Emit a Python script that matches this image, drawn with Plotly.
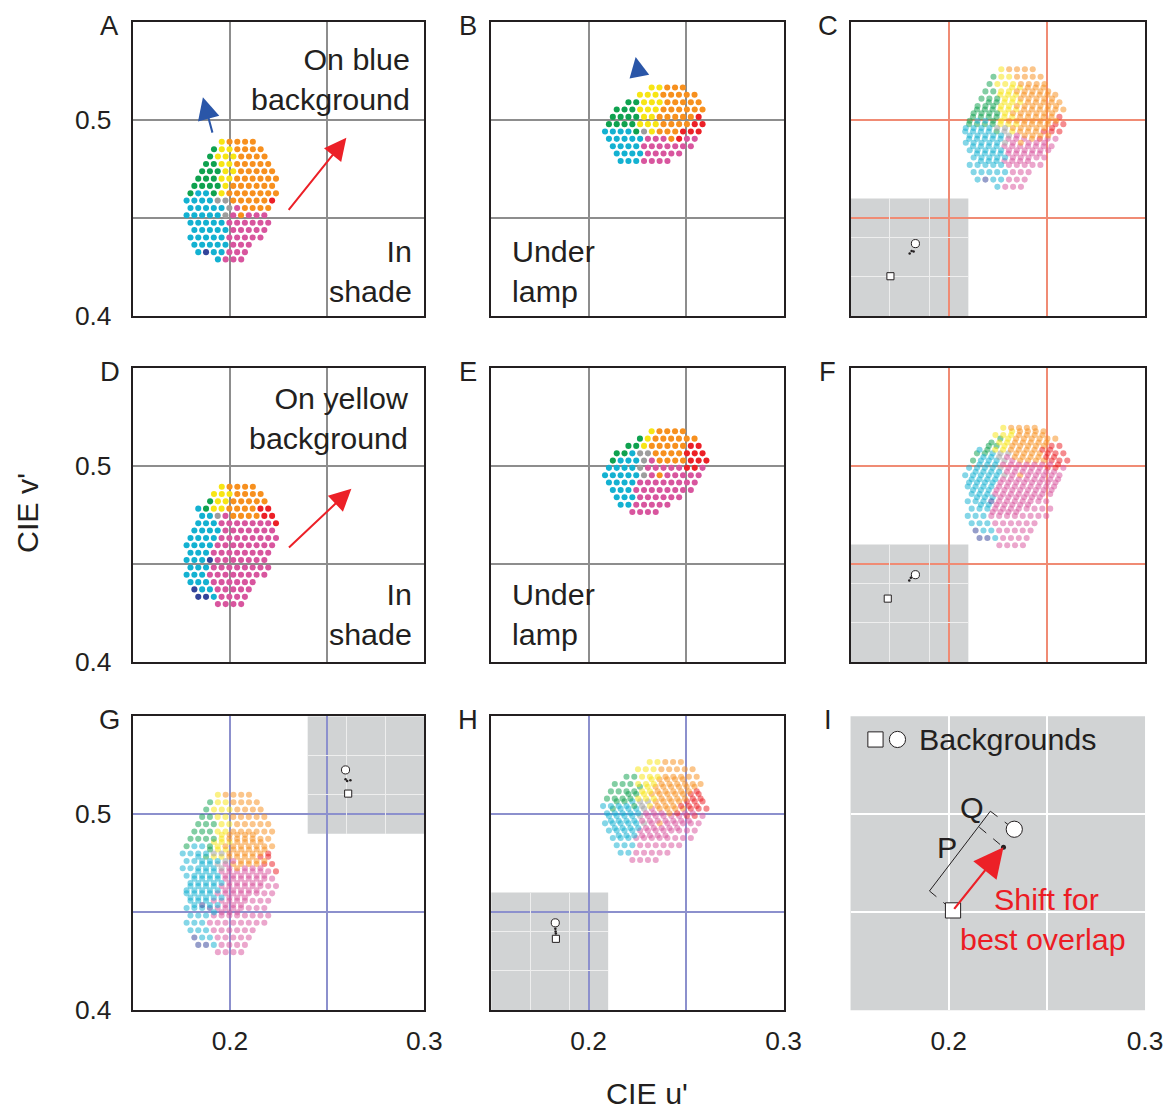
import plotly.graph_objects as go

# ====================== DATA ======================
U_RANGE = [0.15, 0.30]
V_RANGE = [0.40, 0.55]
U_TICKS = [0.20, 0.25, 0.30]
U_TICKTEXT = ["0.2", "", "0.3"]
V_TICKS = [0.40, 0.45, 0.50]
V_TICKTEXT = ["0.4", "", "0.5"]

DOT_STEP_U = 0.0040  # spacing of neighbouring samples along u' in each row

# colour codes of the samples: c cyan, g green, y yellow, o orange, r red,
# m magenta, k grey, b dark blue
# Panel A (blue background, in shade)
A_rows_v = [0.4889, 0.4851, 0.4814, 0.4776, 0.4739, 0.4701, 0.4664, 0.4626, 0.4589,
            0.4551, 0.4514, 0.4476, 0.4439, 0.4401, 0.4364, 0.4326, 0.4289]
A_rows_u0 = [0.1958, 0.1918, 0.1898, 0.1877, 0.1857, 0.1837, 0.1817, 0.1797, 0.1777,
             0.1797, 0.1777, 0.1797, 0.1817, 0.1797, 0.1817, 0.1837, 0.1938]
A_rows_col = ["yoooo", "gyyoooo", "gyyyoooo", "ggyyooooo", "gggyyooooo", "gggyyoooooo",
              "ggggyoooooo", "gccgyooooooo", "cccckkooooor", "ccccckmoooo", "ccccckmommm",
              "cccccmmmmmm", "cccccmmmmm", "cccccmmmmm", "cccccmmm", "cbccmmm", "cmmm"]

# Panel B (blue background, under lamp)
B_rows_v = [0.5166, 0.5129, 0.5091, 0.5054, 0.5016, 0.4979, 0.4941, 0.4904, 0.4866,
            0.4829, 0.4791]
B_rows_u0 = [0.2323, 0.2263, 0.2204, 0.2144, 0.2124, 0.2104, 0.2084, 0.2104, 0.2124,
             0.2144, 0.2164]
B_rows_col = ["yyooo", "yyyooooo", "ggyyyooooo", "gggyyyoooooo", "ggggyyooooor",
              "ggggyyyoooorr", "ccccgkyooorrr", "cccccmmmormm", "ccccmmmmmmm",
              "ccccmmmmm", "cccmmmm"]

# Panel D (yellow background, in shade)
D_rows_v = [0.4895, 0.4858, 0.4820, 0.4783, 0.4746, 0.4708, 0.4671, 0.4633, 0.4596,
            0.4558, 0.4521, 0.4483, 0.4446, 0.4408, 0.4371, 0.4333, 0.4296]
D_rows_u0 = [0.1958, 0.1918, 0.1898, 0.1837, 0.1857, 0.1837, 0.1817, 0.1797, 0.1777,
             0.1797, 0.1777, 0.1797, 0.1777, 0.1797, 0.1817, 0.1837, 0.1938]
D_rows_col = ["yoooo", "yyyoooo", "gyyooooo", "cgyyoooorr", "cckmoooorr", "cccmmmmmmmr",
              "ccccmmmmmmm", "ccccmmmmmmmm", "ccccmmmmmmmm", "cccmmmmmmmm", "cccbmmmmmmm",
              "cccmmmmmmmm", "cccmmmmmmmm", "cccmmmmmm", "bccmmmmm", "bbcmmmm", "mmmm"]

# Panel E (yellow background, under lamp)
E_rows_v = [0.5178, 0.5140, 0.5103, 0.5065, 0.5028, 0.4991, 0.4953, 0.4916, 0.4878,
            0.4841, 0.4803, 0.4766]
E_rows_u0 = [0.2323, 0.2263, 0.2204, 0.2144, 0.2124, 0.2104, 0.2084, 0.2104, 0.2124,
             0.2144, 0.2164, 0.2224]
E_rows_col = ["yoooo", "gyoooooo", "ggyooooorr", "ggckkoooorrr", "gccckmoooorrr",
              "cccckmmmmmrrm", "ccccckmommmmm", "ccccmmmmmmmm", "cccmmmmmmmm",
              "cccmmmmmm", "ccmmmmm", "mmmm"]

# best-overlap shifts used in the combined panels (du', dv')
SHIFT_C_OF_A = (0.031, 0.037)
SHIFT_F_OF_D = (0.032, 0.030)
SHIFT_G_OF_A = (-0.002, 0.021)
SHIFT_H_OF_B = (-0.001, 0.010)

# insets: background chromaticities (square, circle) and the shift samples
INSET_PANELS = ["C", "F", "G", "H"]
INSET_CORNER = ["bl", "bl", "tr", "bl"]
INSET_SQUARE_U = [0.2008, 0.1974, 0.2021, 0.2330]
INSET_SQUARE_V = [0.4508, 0.4810, 0.4512, 0.4910]
INSET_CIRCLE_U = [0.2326, 0.2326, 0.1987, 0.2322]
INSET_CIRCLE_V = [0.4924, 0.5115, 0.4814, 0.5114]
INSET_DOTS_U = [[0.2253, 0.2278, 0.2303], [0.2248, 0.2268, 0.2290],
                [0.1987, 0.2008, 0.2050], [0.2323, 0.2326, 0.2329]]
INSET_DOTS_V = [[0.4797, 0.4830, 0.4822], [0.5042, 0.5076, 0.5097],
                [0.4695, 0.4673, 0.4682], [0.5037, 0.5004, 0.4979]]

# panel I schematic
I_SQUARE = (0.2022, 0.4509)
I_CIRCLE = (0.2334, 0.4923)
I_SHIFT_DOT = (0.2279, 0.4831)
I_SIDE_U = [0.1902, 0.2212]          # solid side of the projection box
I_SIDE_V = [0.4608, 0.5015]
I_P_CORNER = (0.2156, 0.4933)
I_LEGEND_SQUARE = (0.1627, 0.5381)
I_LEGEND_CIRCLE = (0.1739, 0.5381)

# arrows (tail -> head)
ARROW_A_BLUE = [(0.1912, 0.4928), (0.1861, 0.5116)]
ARROW_A_RED = [(0.2296, 0.4534), (0.2599, 0.4909)]
ARROW_B_BLUE = [(0.2258, 0.5233), (0.2241, 0.5322)]
ARROW_D_RED = [(0.2296, 0.4577), (0.2625, 0.4885)]

# ====================== STYLE ======================
# the photographed page area is slightly larger than the picture; scale px to match
SCALE = 1183 / 1167
W, H = 1183, 1124                    # figure fills the photographed page (body margin 0)
COL_PX = [(133, 425), (492, 785), (852, 1147)]
ROW_PX = [(22, 316), (368, 662), (716, 1010)]
PANELS = ["A", "B", "C", "D", "E", "F", "G", "H", "I"]
GRID = {"A": "#8d8d8d", "B": "#8d8d8d", "D": "#8d8d8d", "E": "#8d8d8d",
        "C": "#f08b74", "F": "#f08b74", "G": "#8c90cd", "H": "#8c90cd", "I": "#ffffff"}
COLORS = {"c": "#13b1d1", "g": "#0fa24f", "y": "#f7e514", "o": "#f7901e",
          "r": "#ec2027", "m": "#d8559e", "k": "#9d9d9d", "b": "#33449a"}
INSET_GRAY = "#d1d3d4"
INK = "#231f20"
FONT = "Liberation Sans, Arial, Helvetica, sans-serif"
RED_TXT = "#ec1c24"


def px_x(px):
    return px * SCALE / W


def px_y(py):
    return 1 - py * SCALE / H


def fs(size):
    return size * SCALE


def cloud(rows_v, rows_u0, rows_col, shift=(0.0, 0.0)):
    us, vs, cs = [], [], []
    for v, u0, col in zip(rows_v, rows_u0, rows_col):
        for i, ch in enumerate(col):
            us.append(u0 + i * DOT_STEP_U + shift[0])
            vs.append(v + shift[1])
            cs.append(COLORS[ch])
    return us, vs, cs


def ax_id(i):
    return "" if i == 0 else str(i + 1)


fig = go.Figure()
layout = dict(width=W, height=H, margin=dict(l=0, r=0, t=0, b=0), autosize=False,
              paper_bgcolor="white", plot_bgcolor="rgba(0,0,0,0)",
              showlegend=False, font=dict(family=FONT, color=INK))
shapes, annotations = [], []
domains = {}

for i, name in enumerate(PANELS):
    r, c = divmod(i, 3)
    a = ax_id(i)
    xd = [px_x(COL_PX[c][0]), px_x(COL_PX[c][1])]
    yd = [px_y(ROW_PX[r][1]), px_y(ROW_PX[r][0])]
    domains[name] = (xd, yd, a)
    framed = name != "I"
    common = dict(showgrid=True, gridcolor=GRID[name], gridwidth=1.6, zeroline=False,
                  showline=framed, mirror=True, linecolor=INK, linewidth=2,
                  ticks="", tickfont=dict(size=fs(26), family=FONT, color=INK))
    layout["xaxis" + a] = dict(domain=xd, anchor="y" + a, range=U_RANGE,
                               tickvals=U_TICKS, ticktext=U_TICKTEXT,
                               showticklabels=(r == 2),
                               ticklabelstandoff=6 if framed else 12, **common)
    layout["yaxis" + a] = dict(domain=yd, anchor="x" + a, range=V_RANGE,
                               tickvals=V_TICKS, ticktext=V_TICKTEXT,
                               showticklabels=(c == 0), ticklabelstandoff=14, **common)
    # panel letter
    annotations.append(dict(text=name, x=px_x(COL_PX[c][0] - 23), y=px_y(ROW_PX[r][0] + 3),
                            xref="paper", yref="paper", showarrow=False,
                            font=dict(size=fs(27), family=FONT, color=INK),
                            xanchor="center", yanchor="middle"))

# panel I grey background
xdI, ydI, aI = domains["I"]
shapes.append(dict(type="rect", xref="x" + aI + " domain", yref="y" + aI + " domain",
                   x0=0, x1=1, y0=0, y1=1, fillcolor=INSET_GRAY, line=dict(width=0),
                   layer="below"))


def add_cloud(name, data, opacity=1.0):
    _, _, a = domains[name]
    us, vs, cs = data
    fig.add_trace(go.Scatter(x=us, y=vs, mode="markers", xaxis="x" + a, yaxis="y" + a,
                             marker=dict(size=fs(6), color=cs, opacity=opacity,
                                         line=dict(width=0)),
                             hoverinfo="skip"))


add_cloud("A", cloud(A_rows_v, A_rows_u0, A_rows_col))
add_cloud("B", cloud(B_rows_v, B_rows_u0, B_rows_col))
add_cloud("D", cloud(D_rows_v, D_rows_u0, D_rows_col))
add_cloud("E", cloud(E_rows_v, E_rows_u0, E_rows_col))
TR = 0.52
add_cloud("C", cloud(B_rows_v, B_rows_u0, B_rows_col), TR)
add_cloud("C", cloud(A_rows_v, A_rows_u0, A_rows_col, SHIFT_C_OF_A), TR)
add_cloud("F", cloud(E_rows_v, E_rows_u0, E_rows_col), TR)
add_cloud("F", cloud(D_rows_v, D_rows_u0, D_rows_col, SHIFT_F_OF_D), TR)
add_cloud("G", cloud(D_rows_v, D_rows_u0, D_rows_col), TR)
add_cloud("G", cloud(A_rows_v, A_rows_u0, A_rows_col, SHIFT_G_OF_A), TR)
add_cloud("H", cloud(E_rows_v, E_rows_u0, E_rows_col), TR)
add_cloud("H", cloud(B_rows_v, B_rows_u0, B_rows_col, SHIFT_H_OF_B), TR)

# insets
FRAC = 0.4
uspan = U_RANGE[1] - U_RANGE[0]
vspan = V_RANGE[1] - V_RANGE[0]
for k, name in enumerate(INSET_PANELS):
    xd, yd, a = domains[name]
    w, h = xd[1] - xd[0], yd[1] - yd[0]
    if INSET_CORNER[k] == "bl":
        ixd, iyd = [xd[0], xd[0] + FRAC * w], [yd[0], yd[0] + FRAC * h]
        gu = [U_RANGE[0], U_RANGE[0] + FRAC * uspan]
        gv = [V_RANGE[0], V_RANGE[0] + FRAC * vspan]
    else:
        ixd, iyd = [xd[1] - FRAC * w, xd[1]], [yd[1] - FRAC * h, yd[1]]
        gu = [U_RANGE[1] - FRAC * uspan, U_RANGE[1]]
        gv = [V_RANGE[1] - FRAC * vspan, V_RANGE[1]]
    shapes.append(dict(type="rect", xref="x" + a, yref="y" + a, x0=gu[0], x1=gu[1],
                       y0=gv[0], y1=gv[1], fillcolor=INSET_GRAY, line=dict(width=0),
                       layer="below"))
    ia = str(10 + k)
    layout["xaxis" + ia] = dict(domain=ixd, anchor="y" + ia, range=U_RANGE,
                                tickvals=U_TICKS[:2], showticklabels=False, showgrid=True,
                                gridcolor="#eeeeee", gridwidth=1.2, zeroline=False,
                                showline=False, ticks="")
    layout["yaxis" + ia] = dict(domain=iyd, anchor="x" + ia, range=V_RANGE,
                                tickvals=V_TICKS[1:], showticklabels=False, showgrid=True,
                                gridcolor="#eeeeee", gridwidth=1.2, zeroline=False,
                                showline=False, ticks="")
    fig.add_trace(go.Scatter(x=INSET_DOTS_U[k], y=INSET_DOTS_V[k], mode="markers",
                             xaxis="x" + ia, yaxis="y" + ia,
                             marker=dict(size=2.5, color=INK), hoverinfo="skip"))
    fig.add_trace(go.Scatter(x=[INSET_SQUARE_U[k]], y=[INSET_SQUARE_V[k]], mode="markers",
                             xaxis="x" + ia, yaxis="y" + ia,
                             marker=dict(symbol="square", size=fs(7), color="white",
                                         line=dict(color=INK, width=1)), hoverinfo="skip"))
    fig.add_trace(go.Scatter(x=[INSET_CIRCLE_U[k]], y=[INSET_CIRCLE_V[k]], mode="markers",
                             xaxis="x" + ia, yaxis="y" + ia,
                             marker=dict(symbol="circle", size=fs(8), color="white",
                                         line=dict(color=INK, width=1)), hoverinfo="skip"))

# panel I schematic
fig.add_trace(go.Scatter(x=I_SIDE_U, y=I_SIDE_V, mode="lines", xaxis="x" + aI, yaxis="y" + aI,
                         line=dict(color=INK, width=1), hoverinfo="skip"))
dash_u = [I_SIDE_U[0], I_SQUARE[0], None, I_SIDE_U[1], I_CIRCLE[0], None, I_P_CORNER[0], I_SHIFT_DOT[0]]
dash_v = [I_SIDE_V[0], I_SQUARE[1], None, I_SIDE_V[1], I_CIRCLE[1], None, I_P_CORNER[1], I_SHIFT_DOT[1]]
fig.add_trace(go.Scatter(x=dash_u, y=dash_v, mode="lines", xaxis="x" + aI, yaxis="y" + aI,
                         line=dict(color=INK, width=1, dash="dash"), hoverinfo="skip"))
fig.add_trace(go.Scatter(x=[I_SQUARE[0], I_LEGEND_SQUARE[0]], y=[I_SQUARE[1], I_LEGEND_SQUARE[1]],
                         mode="markers", xaxis="x" + aI, yaxis="y" + aI,
                         marker=dict(symbol="square", size=fs(15), color="white",
                                     line=dict(color=INK, width=1)), hoverinfo="skip"))
fig.add_trace(go.Scatter(x=[I_CIRCLE[0], I_LEGEND_CIRCLE[0]], y=[I_CIRCLE[1], I_LEGEND_CIRCLE[1]],
                         mode="markers", xaxis="x" + aI, yaxis="y" + aI,
                         marker=dict(symbol="circle", size=fs(16), color="white",
                                     line=dict(color=INK, width=1)), hoverinfo="skip"))
fig.add_trace(go.Scatter(x=[I_SHIFT_DOT[0]], y=[I_SHIFT_DOT[1]], mode="markers",
                         xaxis="x" + aI, yaxis="y" + aI,
                         marker=dict(size=5, color=INK), hoverinfo="skip"))


def arrow(name, tail, head, color, width=2.0, size=2.2):
    a = domains[name][2]
    annotations.append(dict(x=head[0], y=head[1], ax=tail[0], ay=tail[1],
                            xref="x" + a, yref="y" + a, axref="x" + a, ayref="y" + a,
                            showarrow=True, arrowhead=2, arrowsize=size, arrowwidth=width,
                            arrowcolor=color, text="", standoff=0))


arrow("A", ARROW_A_BLUE[0], ARROW_A_BLUE[1], "#2a56a8")
arrow("A", ARROW_A_RED[0], ARROW_A_RED[1], "#ec2027")
arrow("B", ARROW_B_BLUE[0], ARROW_B_BLUE[1], "#2a56a8", size=2.0)
arrow("D", ARROW_D_RED[0], ARROW_D_RED[1], "#ec2027")
arrow("I", I_SQUARE, I_SHIFT_DOT, "#ec2027", width=2.2, size=2.7)


def label(name, text, u, v, xanchor, color=INK, size=30, align=None):
    a = domains[name][2]
    annotations.append(dict(text=text, x=u, y=v, xref="x" + a, yref="y" + a, showarrow=False,
                            xanchor=xanchor, yanchor="middle", align=align or xanchor,
                            font=dict(size=fs(size), family=FONT, color=color)))


label("A", "On blue<br>background", 0.2935, 0.5207, "right")
label("A", "In<br>shade", 0.2945, 0.4229, "right")
label("B", "Under<br>lamp", 0.1595, 0.4229, "left")
label("D", "On yellow<br>background", 0.2930, 0.5247, "right")
label("D", "In<br>shade", 0.2945, 0.4248, "right")
label("E", "Under<br>lamp", 0.1595, 0.4248, "left")
label("I", "Backgrounds", 0.1840, 0.5381, "left")
label("I", "P", 0.1992, 0.4831, "center")
label("I", "Q", 0.2119, 0.5038, "center")
label("I", "Shift for", 0.2222, 0.4567, "left", color=RED_TXT)
label("I", "best overlap", 0.2049, 0.4361, "left", color=RED_TXT)

annotations.append(dict(text="CIE u'", x=px_x(648), y=px_y(1093), xref="paper", yref="paper",
                        xanchor="center", yanchor="middle", showarrow=False,
                        font=dict(size=fs(30), family=FONT, color=INK)))
annotations.append(dict(text="CIE v'", x=px_x(27), y=px_y(513), xref="paper", yref="paper",
                        xanchor="center", yanchor="middle", showarrow=False, textangle=-90,
                        font=dict(size=fs(30), family=FONT, color=INK)))

layout["shapes"] = shapes
layout["annotations"] = annotations
fig.update_layout(**layout)
fig.write_html("out.html", config={"displayModeBar": False},
               post_script="document.body.style.margin='0px';")
